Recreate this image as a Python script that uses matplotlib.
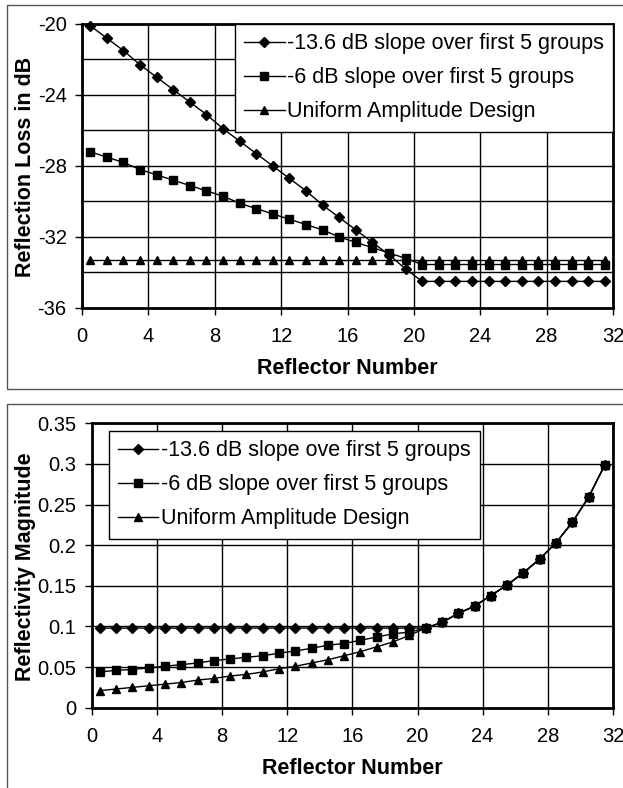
import matplotlib.pyplot as plt
from matplotlib.patches import Rectangle
from matplotlib.ticker import MultipleLocator, FuncFormatter

plt.rcParams['font.family'] = ['Liberation Sans', 'DejaVu Sans']
plt.rcParams['axes.unicode_minus'] = False

# номера отражателей (центры)
reflector = [0.5, 1.5, 2.5, 3.5, 4.5, 5.5, 6.5, 7.5, 8.5, 9.5, 10.5, 11.5,
             12.5, 13.5, 14.5, 15.5, 16.5, 17.5, 18.5, 19.5, 20.5, 21.5,
             22.5, 23.5, 24.5, 25.5, 26.5, 27.5, 28.5, 29.5, 30.5, 31.5]

# верхний график: потери отражения, дБ
loss_136 = [-20.1, -20.8, -21.5, -22.3, -23.0, -23.7, -24.4, -25.1, -25.9, -26.6,
            -27.3, -28.0, -28.7, -29.4, -30.2, -30.9, -31.6, -32.3, -33.0, -33.8,
            -34.5, -34.5, -34.5, -34.5, -34.5, -34.5, -34.5, -34.5, -34.5, -34.5,
            -34.5, -34.5]
loss_6 = [-27.2, -27.5, -27.8, -28.2, -28.5, -28.8, -29.1, -29.4, -29.7, -30.1,
          -30.4, -30.7, -31.0, -31.3, -31.6, -32.0, -32.3, -32.6, -32.9, -33.2,
          -33.55, -33.55, -33.55, -33.55, -33.55, -33.55, -33.55, -33.55, -33.55,
          -33.55, -33.55, -33.55]
loss_uniform = [-33.3] * 32

# нижний график: модуль коэффициента отражения
refl_136 = [0.098, 0.098, 0.098, 0.098, 0.098, 0.098, 0.098, 0.098, 0.098, 0.098,
            0.098, 0.098, 0.098, 0.098, 0.098, 0.098, 0.098, 0.098, 0.098, 0.098,
            0.098, 0.105, 0.116, 0.125, 0.138, 0.151, 0.166, 0.183, 0.203, 0.228,
            0.259, 0.299]
refl_6 = [0.044, 0.046, 0.047, 0.049, 0.051, 0.053, 0.055, 0.058, 0.060, 0.062,
          0.064, 0.067, 0.070, 0.073, 0.077, 0.079, 0.083, 0.087, 0.091, 0.093,
          0.098, 0.105, 0.116, 0.125, 0.138, 0.151, 0.166, 0.183, 0.203, 0.228,
          0.259, 0.299]
refl_uniform = [0.021, 0.023, 0.025, 0.027, 0.029, 0.031, 0.034, 0.036, 0.039, 0.041,
                0.044, 0.048, 0.051, 0.055, 0.059, 0.064, 0.069, 0.075, 0.081, 0.089,
                0.098, 0.105, 0.116, 0.125, 0.138, 0.151, 0.166, 0.183, 0.203, 0.228,
                0.259, 0.299]

labels_top = ['-13.6 dB slope over first 5 groups',
              '-6 dB slope over first 5 groups',
              'Uniform Amplitude Design']
labels_bottom = ['-13.6 dB slope ove first 5 groups',
                 '-6 dB slope over first 5 groups',
                 'Uniform Amplitude Design']

markers = [('D', 4.6), ('s', 5.8), ('^', 6.2)]

W, H = 623, 788
fig = plt.figure(figsize=(W / 100, H / 100), dpi=100)

# рамки вокруг двух диаграмм
fig.patches.append(Rectangle((7 / W, 1 - 389 / H), 1.0, 384 / H, transform=fig.transFigure,
                             fill=False, ec='#555555', lw=1))
fig.patches.append(Rectangle((7 / W, -0.05), 1.0, 1 - 404 / H + 0.05, transform=fig.transFigure,
                             fill=False, ec='#555555', lw=1))

ax1 = fig.add_axes([82 / W, 1 - 308 / H, 531 / W, 284 / H])
ax2 = fig.add_axes([91.7 / W, 1 - 707.7 / H, 521.3 / W, 284.4 / H])


def style_axes(ax, ylim, ymajor, yminor):
    ax.set_xlim(0, 32)
    ax.set_ylim(*ylim)
    ax.xaxis.set_major_locator(MultipleLocator(4))
    ax.yaxis.set_major_locator(MultipleLocator(ymajor))
    ax.yaxis.set_minor_locator(MultipleLocator(yminor))
    ax.set_axisbelow(True)
    ax.grid(which='both', color='black', lw=1.0)
    ax.tick_params(which='major', direction='out', length=5, width=1, labelsize=14.5, color='black')
    ax.tick_params(axis='x', which='major', pad=9)
    ax.tick_params(axis='y', which='major', pad=6)
    ax.tick_params(which='minor', length=0)
    for s in ax.spines.values():
        s.set_linewidth(2)
        s.set_color('black')


def draw_series(ax, ys, labels):
    for y, lab, (m, ms) in zip(ys, labels, markers):
        ax.plot(reflector, y, color='black', lw=1, marker=m, ms=ms, mfc='black',
                mec='black', label=lab, clip_on=False, zorder=3)


draw_series(ax1, [loss_136, loss_6, loss_uniform], labels_top)
style_axes(ax1, (-36, -20), 4, 2)

draw_series(ax2, [refl_136, refl_6, refl_uniform], labels_bottom)
style_axes(ax2, (0, 0.35), 0.05, 0.05)
ax2.yaxis.set_major_formatter(FuncFormatter(lambda v, _: f'{v:g}'))

leg_kw = dict(fontsize=15.5, frameon=True, fancybox=False, edgecolor='black', framealpha=1,
              handlelength=1.86, handletextpad=0.1, borderpad=0.44, labelspacing=0.6,
              borderaxespad=0)
lg1 = ax1.legend(loc='upper right', bbox_to_anchor=(1, 1), **leg_kw)
lg2 = ax2.legend(loc='upper left', bbox_to_anchor=(0.033, 0.973), **leg_kw)
for lg in (lg1, lg2):
    lg.get_frame().set_linewidth(1.0)
    lg.set_zorder(5)

# подписи осей
fig.text(347.5 / W, 1 - 368 / H, 'Reflector Number', ha='center', va='center',
         fontsize=15.5, fontweight='bold')
fig.text(352.4 / W, 1 - 769 / H, 'Reflector Number', ha='center', va='center',
         fontsize=15.5, fontweight='bold')
fig.text(26 / W, 1 - 167 / H, 'Reflection Loss in dB', ha='center', va='center',
         rotation=90, fontsize=15.5, fontweight='bold')
fig.text(26 / W, 1 - 567 / H, 'Reflectivity Magnitude', ha='center', va='center',
         rotation=90, fontsize=15.5, fontweight='bold')

fig.savefig('out.png', dpi=100)
